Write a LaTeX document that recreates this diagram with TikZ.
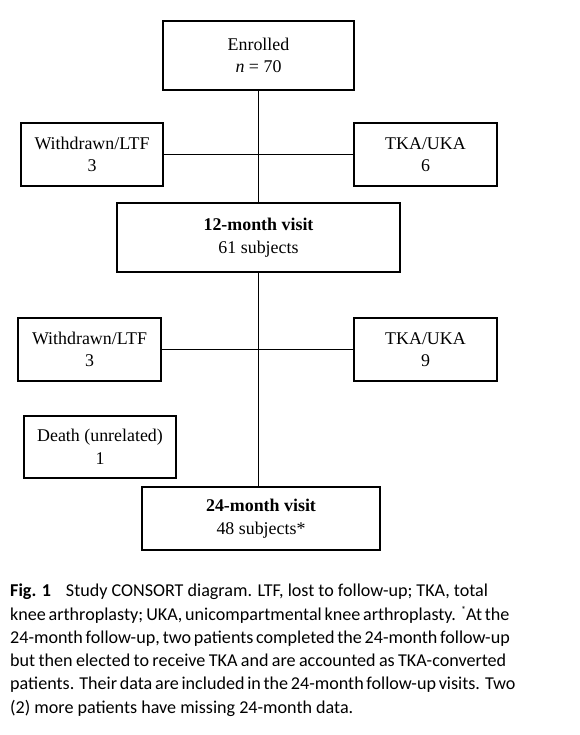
\documentclass[tikz,border=0pt]{standalone}
\usepackage{fontspec}
\setmainfont{Liberation Serif}
\newfontfamily\capfont{Carlito}
\begin{document}
\begin{tikzpicture}[x=1pt,y=-1pt,
  box/.style={draw=black,line width=1.1pt,rectangle,align=center,inner sep=0pt,
    font=\fontsize{17.9}{22.5}\selectfont},
  conn/.style={draw=black,line width=0.8pt},
  capline/.style={anchor=base west,inner sep=0pt,font=\capfont\fontsize{18.1}{23.3}\selectfont}]
\useasboundingbox[fill=white] (0,0) rectangle (579,735);
\node[box,minimum width=191pt,minimum height=69pt] (enr) at (258.5,55.5) {Enrolled\\\textit{n} = 70};
\node[box,minimum width=142pt,minimum height=63pt] (wd1) at (92,154.5) {Withdrawn/LTF\\3};
\node[box,minimum width=143pt,minimum height=63pt] (tka1) at (425.5,154.5) {TKA/UKA\\6};
\node[box,minimum width=283pt,minimum height=69pt] (m12) at (258.5,237.5) {\textbf{12-month visit}\\61 subjects};
\node[box,minimum width=143pt,minimum height=63pt] (wd2) at (89.5,349.5) {Withdrawn/LTF\\3};
\node[box,minimum width=143pt,minimum height=63pt] (tka2) at (425.5,349.5) {TKA/UKA\\9};
\node[box,minimum width=152pt,minimum height=62pt] (death) at (100,447) {Death (unrelated)\\1};
\node[box,minimum width=238pt,minimum height=63pt] (m24) at (261,518.5) {\textbf{24-month visit}\\48 subjects*};
\draw[conn] (enr.south) -- (m12.north);
\draw[conn] (wd1.east) -- (tka1.west);
\draw[conn] (m12.south) -- (m12.south |- m24.north);
\draw[conn] (wd2.east) -- (tka2.west);
\node[capline] (c1) at (10,596.7) {\textbf{Fig. 1}\hspace{0.6em} Study CONSORT diagram. LTF, lost to follow-up; TKA, total};
\node[capline] (c2) at (10,620) {\makebox[496pt][s]{knee arthroplasty; UKA, unicompartmental knee arthroplasty. \raisebox{0.35em}{\fontsize{10}{10}\selectfont *}At the}};
\node[capline] (c3) at (10,643.3) {\makebox[496pt][s]{24-month follow-up, two patients completed the 24-month follow-up}};
\node[capline] (c4) at (10,666.6) {\makebox[496pt][s]{but then elected to receive TKA and are accounted as TKA-converted}};
\node[capline] (c5) at (10,689.9) {\makebox[496pt][s]{patients. Their data are included in the 24-month follow-up visits. Two}};
\node[capline] (c6) at (10,713.2) {(2) more patients have missing 24-month data.};
\end{tikzpicture}
\end{document}
